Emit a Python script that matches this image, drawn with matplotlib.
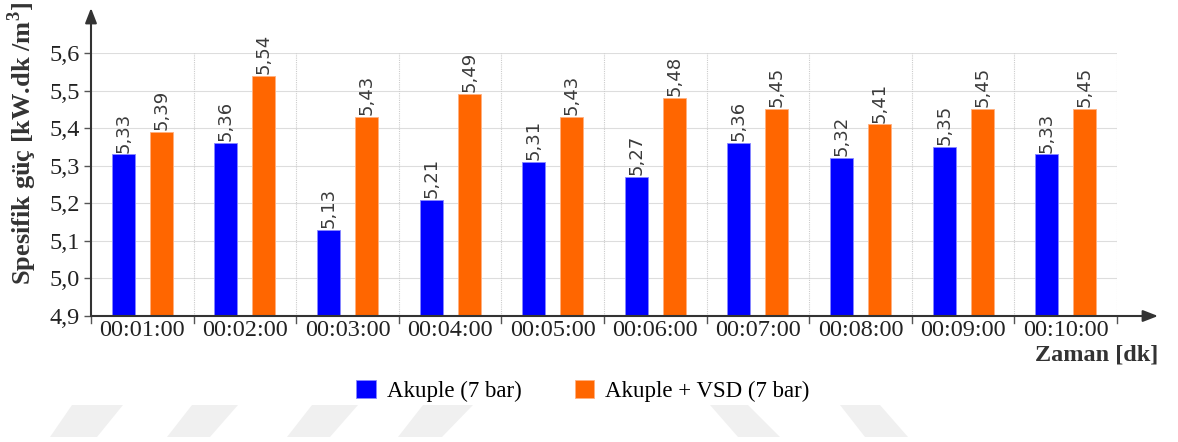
import matplotlib
matplotlib.use("Agg")
import matplotlib.pyplot as plt
from matplotlib.patches import Polygon

# Data
times = ["00:01:00", "00:02:00", "00:03:00", "00:04:00", "00:05:00",
         "00:06:00", "00:07:00", "00:08:00", "00:09:00", "00:10:00"]
akuple = [5.33, 5.36, 5.13, 5.21, 5.31, 5.27, 5.36, 5.32, 5.35, 5.33]
akuple_vsd = [5.39, 5.54, 5.43, 5.49, 5.43, 5.48, 5.45, 5.41, 5.45, 5.45]
series_names = ["Akuple (7 bar)", "Akuple + VSD (7 bar)"]
y_ticks = [4.9, 5.0, 5.1, 5.2, 5.3, 5.4, 5.5, 5.6]

W, H = 1178, 442
fig = plt.figure(figsize=(W / 100, H / 100), dpi=100)
serif = ["Liberation Serif", "DejaVu Serif"]

# faint background emblems
for top, bot in [((72, 123), (50, 97)), ((192, 238), (167, 210)),
                 ((312, 358), (287, 330)), ((423, 473), (398, 442)),
                 ((710, 748), (738, 780)), ((840, 880), (865, 908))]:
    pts = [(top[0], 405), (top[1], 405), (bot[1], 437), (bot[0], 437)]
    fig.patches.append(Polygon([(x / W, 1 - y / H) for x, y in pts],
                               closed=True, transform=fig.transFigure,
                               facecolor="#f0f0f0", edgecolor="none", zorder=0))

ax_l, ax_r, ax_t, ax_b = 91, 1117, 53, 316
ax = fig.add_axes([ax_l / W, 1 - ax_b / H, (ax_r - ax_l) / W, (ax_b - ax_t) / H])
ax.set_facecolor("none")

blue, orange = "#0000ff", "#ff6600"
n = len(times)
xs = list(range(n))
bw, off = 0.225, 0.185
base = y_ticks[0]
b1 = ax.bar([x - off for x in xs], [v - base for v in akuple], bw, bottom=base,
            color=blue, edgecolor="#8888ff", linewidth=0.6, zorder=3, label=series_names[0])
b2 = ax.bar([x + off for x in xs], [v - base for v in akuple_vsd], bw, bottom=base,
            color=orange, edgecolor="#ffb080", linewidth=0.6, zorder=3, label=series_names[1])

for x, v in zip(xs, akuple):
    ax.text(x - off, v + 0.005, f"{v:.2f}".replace(".", ","), rotation=90,
            ha="center", va="bottom", fontsize=13, color="#3a3a3a",
            family="DejaVu Sans", zorder=4)
for x, v in zip(xs, akuple_vsd):
    ax.text(x + off, v + 0.005, f"{v:.2f}".replace(".", ","), rotation=90,
            ha="center", va="bottom", fontsize=13, color="#3a3a3a",
            family="DejaVu Sans", zorder=4)

ax.set_xlim(-0.5, n - 0.5)
ax.set_ylim(y_ticks[0], y_ticks[-1])

# grid
for y in y_ticks[1:]:
    ax.axhline(y, color="#dddddd", linewidth=0.8, zorder=1)
for x in [i + 0.5 for i in range(n)]:
    ax.axvline(x, color="#cccccc", linewidth=0.8, linestyle=(0, (1, 1)), zorder=1)

for s in ax.spines.values():
    s.set_visible(False)

ax.set_yticks(y_ticks)
ax.set_yticklabels([f"{v:.1f}".replace(".", ",") for v in y_ticks],
                   family=serif, fontsize=17.5, color="#222222")
ax.set_xticks(xs)
ax.set_xticklabels(times, family=serif, fontsize=17.5, color="#222222")
ax.tick_params(axis="x", length=0, pad=3)
ax.tick_params(axis="y", length=5, width=1, color="#555555", pad=3)
# small separating ticks under the x axis
for x in [i - 0.5 for i in range(n + 1)]:
    ax.plot([x, x], [0, -0.025], transform=ax.get_xaxis_transform(),
            color="#555555", lw=1, clip_on=False, zorder=5)

# axis arrows
ext_y = (ax_t - 8) / (ax_b - ax_t)
ext_x = (1158 - ax_r) / (ax_r - ax_l)
arrow = dict(arrowstyle="-|>,head_length=0.9,head_width=0.35", color="#333333", lw=1.5,
             shrinkA=0, shrinkB=0)
ax.annotate("", xy=(0, 1 + ext_y), xytext=(0, 0), xycoords="axes fraction",
            textcoords="axes fraction", arrowprops=arrow, annotation_clip=False, zorder=6)
ax.annotate("", xy=(1 + ext_x, 0), xytext=(0, 0), xycoords="axes fraction",
            textcoords="axes fraction", arrowprops=arrow, annotation_clip=False, zorder=6)

fig.text(22 / W, 1 - 144 / H, "Spesifik güç [kW.dk /m$^\\mathregular{3}$]", rotation=90,
         ha="center", va="center", family=serif, fontsize=19, fontweight="bold",
         color="#333333")
fig.text(1158 / W, 1 - 355 / H, "Zaman [dk]", ha="right", va="center",
         family=serif, fontsize=17.5, fontweight="bold", color="#333333")

fig.legend(handles=[b1, b2], labels=series_names, loc="center",
           bbox_to_anchor=(583 / W, 1 - 391 / H), ncol=2, frameon=False,
           prop={"family": serif, "size": 16.5}, handlelength=0.85, handleheight=0.85,
           handletextpad=0.5, columnspacing=2.3)

fig.savefig("out.png", dpi=100)
